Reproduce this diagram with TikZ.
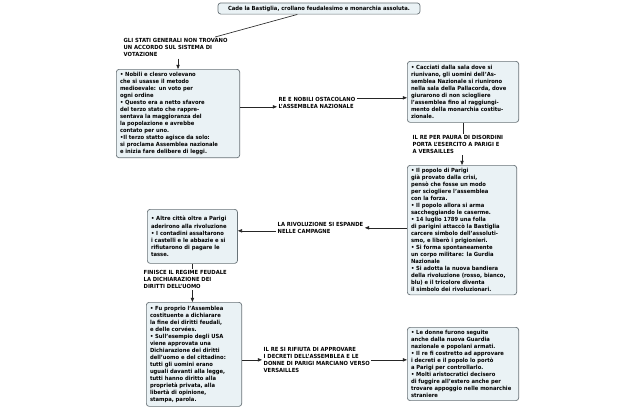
\documentclass[tikz,border=0pt]{standalone}
\usepackage{fontspec}
\setmainfont{DejaVu Sans}[FakeStretch=0.93]
\usetikzlibrary{arrows.meta, calc}
\definecolor{boxfill}{RGB}{234,242,245}
\definecolor{boxdraw}{RGB}{105,115,120}

\begin{document}
\begin{tikzpicture}[
            x=0.025cm, y=-0.025cm,
            txt/.style={font=\fontsize{4}{5}\selectfont\bfseries},
            box/.style={txt, draw=boxdraw, fill=boxfill, rounded corners=2pt, line width=0.5pt, align=left, inner xsep=2.6pt, inner ysep=2pt, anchor=north west},
            lab/.style={txt, align=left, inner sep=1pt, anchor=north west},
            link/.style={black!85, line width=0.45pt},
            arr/.style={link, -{Triangle[length=3pt, width=2.4pt]}}
        ]
            \fill[white] (0,0) rectangle (640,408);
            \useasboundingbox (0,0) rectangle (640,408);

            \node[box, anchor=center, minimum width=5.05cm, minimum height=0.28cm] (title) at (319,8.5) {Cade la Bastiglia, crollano feudalesimo e monarchia assoluta.};

            \node[lab] (lab1) at (122,37) {GLI STATI GENERALI NON TROVANO\\UN ACCORDO SUL SISTEMA DI\\VOTAZIONE};
            \node[box, text width=2.9cm, minimum height=2.175cm] (box1) at (116,69) {• Nobili e clesro volevano\\che si usasse il metodo\\medioevale: un voto per\\ogni ordine\\• Questo era a netto sfavore\\del terzo stato che rappre-\\sentava la maggioranza del\\la popolazione e avrebbe\\contato per uno.\\•Il terzo statto agisce da solo:\\si proclama Assemblea nazionale\\e inizia fare delibere di leggi.};

            \node[lab] (lab2) at (277,95.5) {RE E NOBILI OSTACOLANO\\L'ASSEMBLEA NAZIONALE};
            \node[box, text width=2.6cm, minimum height=1.525cm] (box2) at (407,61) {• Cacciati dalla sala dove si\\riunivano, gli uomini dell'As-\\semblea Nazionale si riunirono\\nella sala della Pallacorda, dove\\giurarono di non sciogliere\\l'assemblea fino al raggiungi-\\mento della monarchia costitu-\\zionale.};

            \node[lab] (lab3) at (411,133.5) {IL RE PER PAURA DI DISORDINI\\PORTA L'ESERCITO A PARIGI E\\A VERSAILLES};
            \node[box, text width=2.55cm, minimum height=3.2cm] (box3) at (407,165) {• Il popolo di Parigi\\già provato dalla crisi,\\pensò che fosse un modo\\per sciogliere l'assemblea\\con la forza.\\• Il popolo allora si arma\\saccheggiando le caserme.\\• 14 luglio 1789 una folla\\di parigini attaccò la Bastiglia\\carcere simbolo dell'assoluti-\\smo, e liberò i prigionieri.\\• Si forma spontaneamente\\un corpo militare: la Gurdia\\Nazionale\\• Si adotta la nuova bandiera\\della rivoluzione (rosso, bianco,\\blu) e il tricolore diventa\\il simbolo dei rivoluzionari.};

            \node[lab] (lab4) at (276,220.5) {LA RIVOLUZIONE SI ESPANDE\\NELLE CAMPAGNE};
            \node[box, text width=2.07cm, minimum height=1.35cm] (box4) at (147,209) {• Altre città oltre a Parigi\\aderirono alla rivoluzione\\• I contadini assaltarono\\i castelli e le abbazie e si\\rifiutarono di pagare le\\tasse.};

            \node[lab] (lab5) at (142,268.5) {FINISCE IL REGIME FEUDALE\\LA DICHIARAZIONE DEI\\DIRITTI DELL'UOMO};
            \node[box, text width=2.2cm, minimum height=2.6cm] (box5) at (146,302) {• Fu proprio l'Assemblea\\costituente a dichiarare\\la fine dei diritti feudali,\\e delle corvées.\\• Sull'esempio degli USA\\viene approvata una\\Dichiarazione dei diritti\\dell'uomo e del cittadino:\\tutti gli uomini erano\\uguali davanti alla legge,\\tutti hanno diritto alla\\proprietà privata, alla\\libertà di opinione,\\stampa, parola.};

            \node[lab] (lab6) at (262,345.5) {IL RE SI RIFIUTA DI APPROVARE\\I DECRETI DELL'ASSEMBLEA E LE\\DONNE DI PARIGI MARCIANO VERSO\\VERSAILLES};
            \node[box, text width=2.6cm, minimum height=1.775cm] (box6) at (407,327) {• Le donne furono seguite\\anche dalla nuova Guardia\\nazionale e popolani armati.\\• Il re fi costretto ad approvare\\i decreti e il popolo lo portò\\a Parigi per controllarlo.\\• Molti aristocratici decisero\\di fuggire all'estero anche per\\trovare appoggio nelle monarchie\\straniere};

            % Connections
            \coordinate (in2) at ($(lab2.west)+(0,4)$);
            \coordinate (out2) at ($(lab2.east)+(0,-5)$);
            \coordinate (out4) at ($(lab4.west)+(0,3)$);
            \draw[link] (title) -- (lab1);
            \draw[arr] (lab1.south -| box1.north) -- (box1.north);
            \draw[arr] (box1.east |- in2) -- (in2);
            \draw[arr] (out2) -- (box2.west |- out2);
            \draw[link] (box2.south) -- (box2.south |- lab3.north);
            \draw[arr] (lab3.south -| box3.north) -- (box3.north);
            \draw[arr] (box3.west |- lab4.east) -- (lab4.east);
            \draw[arr] (out4) -- (box4.east |- out4);
            \draw[link] (box4.south) -- (box4.south |- lab5.north);
            \draw[arr] (box4.south |- lab5.south) -- (box4.south |- box5.north);
            \draw[arr] (box5.east |- lab6.west) -- (lab6.west);
            \draw[arr] (lab6.east) -- (box6.west |- lab6.east);
        \end{tikzpicture}
\end{document}
